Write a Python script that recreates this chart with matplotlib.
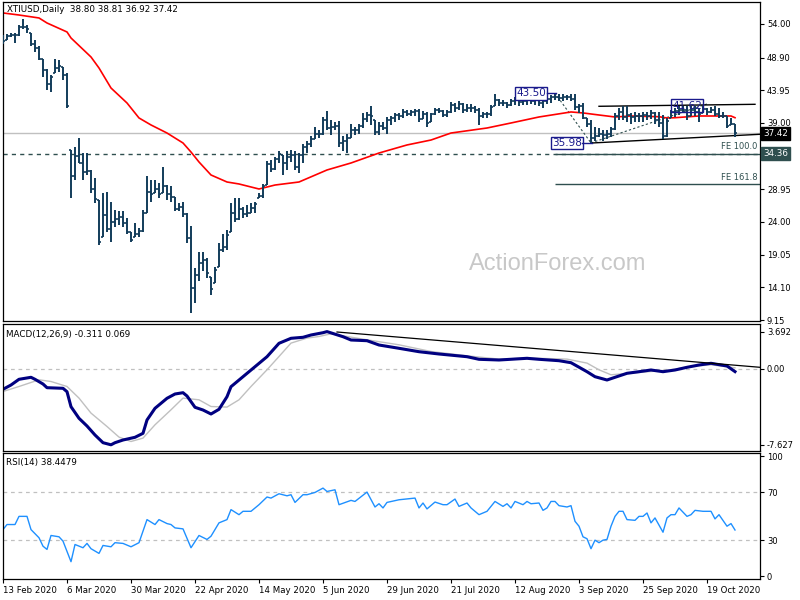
import numpy as np
import matplotlib.pyplot as plt

plt.rcParams['font.family'] = 'DejaVu Sans'

# x axis: one slot per daily bar
date_pos = [0, 16, 32, 48, 64, 80, 96, 112, 128, 144, 160, 176]
date_lbl = ['13 Feb 2020', '6 Mar 2020', '30 Mar 2020', '22 Apr 2020', '14 May 2020', '5 Jun 2020',
            '29 Jun 2020', '21 Jul 2020', '12 Aug 2020', '3 Sep 2020', '25 Sep 2020', '19 Oct 2020']

highs = [52.3, 52.5, 52.7, 52.6, 53.85, 54.7, 53.8, 52.7, 51.6, 50.6,
         48.7, 47.2, 46.3, 48.7, 48.5, 47.5, 46.6, 34.9, 35.4, 36.8,
         34.4, 34.4, 31.9, 30.7, 27.3, 28.4, 28.6, 27.1, 25.8, 25.6,
         25.6, 24.6, 22.5, 23.8, 23.1, 25.8, 30.9, 30.4, 30.4, 29.9,
         32.3, 29.6, 29.4, 27.8, 26.9, 27.1, 25.4, 23.4, 17.0, 19.4,
         19.5, 18.5, 15.7, 17.2, 20.8, 22.2, 22.8, 26.9, 27.6, 27.6,
         26.3, 26.6, 26.9, 27.1, 28.4, 29.8, 33.3, 33.4, 33.9, 34.8,
         34.2, 34.7, 34.9, 34.7, 34.5, 35.8, 36.2, 37.0, 38.4, 37.9,
         39.9, 40.8, 39.5, 39.2, 39.3, 37.0, 37.4, 38.9, 38.4, 38.9,
         40.5, 40.6, 41.6, 39.5, 39.1, 39.2, 39.9, 40.0, 40.5, 40.5,
         41.1, 41.0, 41.0, 41.1, 41.1, 40.8, 40.7, 40.5, 41.3, 41.2,
         41.0, 41.0, 42.2, 42.0, 42.4, 42.0, 41.9, 41.9, 41.6, 41.2,
         40.7, 40.7, 41.7, 43.4, 42.7, 42.5, 42.2, 42.7, 43.0, 43.0,
         42.7, 42.9, 42.7, 43.0, 42.9, 42.7, 43.0, 43.2, 43.5, 43.4,
         43.4, 43.2, 43.4, 43.4, 41.9, 42.0, 39.7, 39.5, 38.4, 38.2,
         37.9, 37.9, 38.4, 40.5, 41.2, 41.6, 41.5, 40.5, 40.6, 40.5,
         40.7, 40.7, 40.9, 40.7, 40.6, 40.2, 39.7, 41.0, 41.2, 41.62,
         41.6, 41.5, 41.5, 41.5, 41.2, 41.6, 41.2, 41.4, 41.5, 41.2,
         40.7, 40.0, 39.7, 38.81]
lows = [51.0, 51.6, 52.0, 51.1, 52.2, 53.3, 52.6, 50.6, 49.8, 48.5,
        46.0, 44.0, 43.7, 46.6, 46.8, 45.5, 41.3, 27.6, 30.4, 32.9,
        30.4, 31.1, 28.4, 26.9, 20.5, 21.8, 22.5, 21.0, 23.3, 23.5,
        23.3, 22.2, 21.0, 21.8, 21.8, 22.5, 25.4, 27.1, 28.4, 27.6,
        28.4, 27.3, 27.1, 25.6, 25.6, 24.8, 20.8, 10.16, 11.7, 15.0,
        16.5, 15.5, 12.9, 14.8, 17.2, 19.5, 19.8, 22.5, 24.0, 24.3,
        24.6, 24.8, 25.3, 25.3, 27.6, 27.6, 29.6, 31.6, 31.9, 32.9,
        31.1, 31.9, 33.1, 31.9, 31.4, 33.0, 34.4, 35.4, 36.5, 36.8,
        37.2, 37.9, 37.2, 37.9, 35.4, 34.7, 34.5, 36.7, 37.2, 37.4,
        38.2, 39.2, 38.7, 37.2, 37.2, 37.9, 37.4, 38.7, 39.2, 39.5,
        39.7, 40.1, 40.0, 40.1, 39.2, 39.6, 38.4, 39.2, 40.2, 40.5,
        39.9, 39.9, 40.5, 40.7, 41.0, 40.5, 40.7, 40.7, 40.5, 38.7,
        39.7, 39.7, 40.0, 41.5, 41.5, 41.5, 41.2, 41.5, 41.7, 41.5,
        41.7, 41.7, 41.9, 41.7, 41.6, 41.2, 41.9, 42.1, 42.5, 42.4,
        42.4, 42.5, 42.4, 41.0, 40.5, 39.6, 38.4, 35.98, 36.2, 36.9,
        36.2, 36.5, 36.9, 37.9, 39.5, 39.5, 39.2, 38.9, 39.2, 39.2,
        39.2, 39.5, 39.6, 38.9, 38.4, 36.6, 36.9, 39.7, 39.9, 40.2,
        40.5, 39.5, 40.0, 40.1, 39.2, 40.5, 40.2, 40.5, 40.0, 39.7,
        39.7, 38.2, 38.7, 36.92]
closes = [51.4, 52.2, 52.4, 52.3, 53.6, 53.5, 53.2, 50.9, 50.3, 48.7,
          47.0, 44.9, 45.9, 47.3, 47.6, 46.2, 41.5, 31.0, 34.0, 33.0,
          31.5, 31.8, 29.0, 27.5, 20.9, 25.1, 23.0, 24.0, 24.5, 24.8,
          23.9, 22.5, 21.3, 22.2, 22.6, 25.4, 28.5, 28.2, 29.0, 28.3,
          29.5, 28.2, 27.8, 26.0, 26.3, 25.2, 21.5, 14.0, 15.9, 17.8,
          18.2, 16.2, 13.9, 16.7, 19.8, 20.2, 22.0, 25.3, 24.4, 26.0,
          25.2, 25.4, 26.1, 26.8, 28.0, 29.5, 32.8, 32.0, 33.5, 34.3,
          33.0, 33.8, 34.1, 32.3, 34.2, 35.3, 35.8, 36.6, 37.3, 37.4,
          39.5, 38.3, 38.4, 38.6, 36.0, 36.3, 36.7, 38.0, 38.0, 38.5,
          39.6, 40.2, 40.0, 37.6, 38.5, 38.3, 39.5, 39.7, 40.2, 40.0,
          40.6, 40.4, 40.7, 40.8, 39.6, 40.3, 39.0, 40.3, 41.0, 40.8,
          40.2, 40.6, 41.8, 41.2, 41.9, 41.0, 41.3, 41.2, 41.0, 40.0,
          40.3, 40.4, 41.4, 42.5, 42.0, 42.1, 41.7, 42.4, 42.6, 42.2,
          42.3, 42.5, 42.4, 42.6, 42.1, 42.4, 42.7, 43.0, 42.9, 42.8,
          43.0, 42.9, 42.6, 41.4, 41.5, 39.8, 38.8, 36.8, 37.0, 37.3,
          37.2, 37.4, 38.1, 40.0, 40.6, 39.9, 40.2, 39.9, 40.0, 40.1,
          40.2, 40.0, 40.5, 39.4, 39.0, 37.0, 39.3, 40.6, 40.8, 40.9,
          41.0, 40.1, 40.9, 40.7, 40.4, 41.1, 40.6, 41.0, 40.4, 40.0,
          40.1, 38.6, 38.8, 37.42]
first_open = 51.8

# moving average (red), read at selected bars
ma_idx = [0, 4, 9, 11, 16, 17, 22, 24, 27, 31, 34, 37, 41, 45, 47, 49, 52, 56, 59, 64, 68, 74, 81,
          87, 94, 101, 107, 112, 121, 127, 134, 142, 145, 149, 153, 157, 164, 166, 168, 174, 182, 183]
ma_val = [55.67, 55.36, 54.91, 54.15, 52.79, 51.88, 49.0, 47.33, 44.3, 42.03, 39.76, 38.7, 37.48,
          35.97, 34.6, 33.09, 31.12, 30.06, 29.76, 29.0, 29.6, 30.06, 31.88, 32.94, 34.45, 35.67,
          36.42, 37.48, 38.24, 39.0, 39.91, 40.67, 40.52, 40.21, 39.91, 40.06, 39.95, 39.76, 39.8,
          40.06, 40.06, 39.8]

macd_idx = [0, 2, 4, 7, 8, 10, 11, 15, 16, 17, 19, 21, 23, 25, 27, 28, 30, 33, 35, 36, 38, 41, 43,
            45, 46, 48, 50, 52, 54, 56, 57, 60, 63, 66, 69, 72, 75, 77, 80, 81, 85, 87, 91, 94, 99,
            104, 109, 116, 119, 124, 131, 134, 139, 142, 146, 148, 151, 153, 156, 159, 162, 165,
            168, 171, 174, 177, 181, 183]
macd_val = [-2.08, -1.65, -1.08, -0.88, -1.08, -1.55, -1.92, -1.98, -2.32, -3.82, -4.98, -5.75,
            -6.65, -7.42, -7.63, -7.42, -7.15, -6.88, -6.48, -5.15, -3.98, -2.98, -2.55, -2.42,
            -2.75, -3.88, -4.15, -4.55, -4.08, -2.82, -1.82, -0.82, 0.18, 1.18, 2.52, 3.02, 3.12,
            3.35, 3.58, 3.69, 3.18, 2.85, 2.78, 2.35, 2.02, 1.68, 1.45, 1.18, 0.92, 0.85, 1.02,
            0.92, 0.78, 0.58, -0.32, -0.82, -1.15, -0.88, -0.48, -0.32, -0.15, -0.32, -0.15, 0.12,
            0.35, 0.52, 0.25, -0.311]
sig_idx = [0, 4, 9, 12, 16, 19, 22, 26, 29, 32, 35, 38, 42, 45, 49, 52, 56, 59, 62, 66, 69, 72, 76,
           79, 82, 86, 91, 99, 107, 116, 124, 132, 141, 146, 149, 152, 157, 162, 167, 172, 177, 183]
sig_val = [-2.3, -1.8, -1.13, -1.3, -1.8, -2.96, -4.46, -5.8, -6.86, -7.3, -6.96, -5.63, -4.13,
           -2.96, -3.13, -3.8, -3.86, -3.13, -1.8, -0.13, 1.2, 2.54, 3.04, 3.2, 3.47, 3.2, 2.87,
           2.37, 1.7, 1.27, 0.94, 1.04, 0.94, 0.54, -0.13, -0.63, -0.46, -0.3, -0.13, 0.2, 0.37,
           0.069]

rsi_idx = [0, 1, 3, 4, 6, 7, 9, 10, 11, 12, 14, 15, 17, 18, 20, 21, 22, 24, 25, 27,
           28, 30, 32, 34, 35, 36, 38, 39, 41, 42, 43, 45, 47, 49, 51, 52, 54, 56, 57, 59,
           60, 62, 64, 66, 67, 69, 71, 72, 73, 75, 76, 78, 80, 81, 83, 84, 87, 88, 91, 93,
           94, 95, 96, 99, 103, 104, 105, 106, 108, 110, 111, 113, 114, 116, 117, 119, 121, 123, 125, 126,
           127, 128, 130, 131, 132, 134, 135, 136, 137, 138, 139, 141, 142, 143, 144, 145, 146, 147, 148, 149,
           150, 151, 152, 153, 154, 155, 156, 158, 159, 160, 161, 162, 163, 165, 166, 167, 168, 169, 171, 172,
           173, 175, 177, 178, 179, 181, 182, 183]
rsi_val = [38.8, 43, 43, 49.8, 49.8, 38.8, 32, 25, 22.3, 33.9,
           32.8, 29.2, 12.1, 26.4, 23.7, 27.3, 22.9, 19, 25.6, 24.5,
           27.9, 27.3, 24.5, 27.9, 37.4, 47.1, 43, 47.1, 43.8, 43,
           40.2, 39.4, 23.7, 33.9, 30.6, 33.3, 44.4, 47.1, 55.4, 51.2,
           54, 54, 59.5, 65.9, 65, 68.6, 66.9, 67.8, 61.4, 67.8,
           67.8, 69.7, 73.3, 70.5, 71.9, 59.5, 63.1, 62.2, 70, 57.6,
           60.3, 56.8, 61.4, 63.6, 65, 56.8, 60.9, 56, 61.7, 59.5,
           59.5, 64.2, 58.1, 60.9, 56.8, 51.2, 54, 62.2, 58.1, 60.3,
           56.8, 62.2, 59.5, 62.2, 60.3, 60.9, 54.8, 56.8, 62.2, 62.2,
           58.7, 57.6, 58.7, 45.7, 41.6, 32.8, 31.2, 22.9, 30, 27.9,
           30, 30.6, 41.6, 49.8, 54, 54, 47.1, 46.5, 49.8, 49.8,
           52.6, 44.4, 48.5, 36.6, 48.5, 51.2, 51.2, 56.8, 49.8, 51.2,
           54.8, 54, 54, 47.7, 51.2, 41.6, 43.8, 38.4479]

price_ticks = [54.00, 48.90, 43.95, 39.00, 34.05, 28.95, 24.00, 19.05, 14.10, 9.15]
last_price = 37.42
fe100 = 34.36
fe161 = 29.71
fe_a = (138, 43.50)
fe_b = (147, 35.98)
fe_c = (176, 41.88)
high_1 = 41.62

bar_c = '#123c5a'
slate = '#2f4f4f'

highs = np.array(highs)
lows = np.array(lows)
closes = np.array(closes)
opens = np.clip(np.r_[first_open, closes[:-1]], lows, highs)
idx = np.arange(len(closes))

fig = plt.figure(figsize=(8, 6), dpi=100)


def rect(l, t, r, b):
    return [l / 800, 1 - b / 600, (r - l) / 800, (b - t) / 600]


ax1 = fig.add_axes(rect(2.5, 2, 760, 321))
ax2 = fig.add_axes(rect(2.5, 324, 760, 450.5))
ax3 = fig.add_axes(rect(2.5, 453, 760, 579))

for ax in (ax1, ax2, ax3):
    ax.set_xlim(-0.125, 189.25)
    ax.yaxis.tick_right()
    ax.tick_params(axis='y', direction='out', length=3, width=0.8, labelsize=6, pad=2)
    for sp in ax.spines.values():
        sp.set_linewidth(0.9)
ax1.set_xticks([])
ax2.set_xticks([])

# ---- price panel
ax1.set_ylim(9.0, 57.33)
ax1.set_yticks(price_ticks)
# 34.05 sits under the 34.36 marker box, as in the terminal
ax1.set_yticklabels(['' if p == 34.05 else '%.2f' % p for p in price_ticks])
ax1.text(558 / 800, 1 - 264 / 600, 'ActionForex.com', transform=fig.transFigure, ha='center',
         va='center', fontsize=17, color='#c8c8c8', family='Liberation Sans', zorder=0)

ax1.axhline(last_price, color='#c0c0c0', lw=1, zorder=1)
ax1.axhline(fe100, color=slate, lw=1, ls=(0, (3, 3)), zorder=1)
ax1.hlines([fe100, fe161], fe_a[0], 189.25, color=slate, lw=1, zorder=1)
ax1.text(188.6, fe100 + 0.35, 'FE 100.0', ha='right', va='bottom', fontsize=6, color=slate)
ax1.text(188.6, fe161 + 0.35, 'FE 161.8', ha='right', va='bottom', fontsize=6, color=slate)

ax1.plot([fe_a[0], fe_b[0]], [fe_a[1], fe_b[1]], color=slate, lw=0.8, ls=(0, (2, 2)), zorder=1)
ax1.plot([fe_b[0], fe_c[0]], [fe_b[1], fe_c[1]], color=slate, lw=0.8, ls=(0, (2, 2)), zorder=1)

ax1.plot([149, 188], [41.53, 41.83], color='black', lw=1, zorder=2)
ax1.plot([147.25, 189.25], [35.97, 37.29], color='black', lw=1, zorder=2)

ax1.plot(ma_idx, ma_val, color='red', lw=1.2, zorder=2)

ax1.vlines(idx, lows, highs, color=bar_c, lw=1.4, zorder=3)
ax1.hlines(opens, idx - 0.45, idx, color=bar_c, lw=1.2, zorder=3)
ax1.hlines(closes, idx, idx + 0.45, color=bar_c, lw=1.2, zorder=3)

lab_c = '#1a1a8c'
ax1.text(132, 43.50, '43.50', ha='center', va='center', fontsize=7.5, color=lab_c, zorder=4,
         bbox=dict(boxstyle='square,pad=0.12', fc='white', ec=lab_c, lw=1))
ax1.plot([136, 138.3], [43.5, 43.5], color=lab_c, lw=1, zorder=4)
ax1.text(141, 35.98, '35.98', ha='center', va='center', fontsize=7.5, color=lab_c, zorder=4,
         bbox=dict(boxstyle='square,pad=0.12', fc='white', ec=lab_c, lw=1))
ax1.plot([144.8, 147.3], [35.98, 35.98], color=lab_c, lw=1, zorder=4)
ax1.text(171, high_1, '41.62', ha='center', va='center', fontsize=7.5, color=lab_c, zorder=4,
         bbox=dict(boxstyle='square,pad=0.12', fc='none', ec=lab_c, lw=1))

ytr = ax1.get_yaxis_transform()
ax1.text(1.004, last_price, '%.2f' % last_price, transform=ytr, ha='left', va='center', fontsize=6.3,
         color='white', clip_on=False, zorder=5,
         bbox=dict(boxstyle='square,pad=0.25', fc='black', ec='black'))
ax1.text(1.004, fe100, '%.2f' % fe100, transform=ytr, ha='left', va='center', fontsize=6.3,
         color='white', clip_on=False, zorder=5,
         bbox=dict(boxstyle='square,pad=0.25', fc=slate, ec=slate))

ax1.text(0.006, 1 - 8 / 319, 'XTIUSD,Daily  %.2f %.2f %.2f %.2f' % (opens[-1], highs[-1], lows[-1], closes[-1]),
         transform=ax1.transAxes, ha='left', va='center', fontsize=6.3, color='black', zorder=6)

# ---- MACD panel
ax2.set_ylim(-8.2, 4.45)
ax2.set_yticks([3.692, 0.0, -7.627])
ax2.set_yticklabels(['3.692', '0.00', '-7.627'])
ax2.axhline(0, color='#c0c0c0', lw=0.9, ls=(0, (3, 3)))
ax2.plot(sig_idx, sig_val, color='#c0c0c0', lw=1)
ax2.plot(macd_idx, macd_val, color='#000080', lw=2.2)
ax2.plot([83.5, 189.25], [3.65, 0.12], color='black', lw=0.9)
ax2.text(0.005, 1 - 10 / 126.5, 'MACD(12,26,9) %.3f %.3f' % (macd_val[-1], sig_val[-1]),
         transform=ax2.transAxes, ha='left', va='center', fontsize=6.3)

# ---- RSI panel
ax3.set_ylim(-2.3, 102.5)
ax3.set_yticks([100, 70, 30, 0])
ax3.set_yticklabels(['100', '70', '30', '0'])
ax3.axhline(70, color='#c0c0c0', lw=0.9, ls=(0, (3, 3)))
ax3.axhline(30, color='#c0c0c0', lw=0.9, ls=(0, (3, 3)))
ax3.plot(rsi_idx, rsi_val, color='#1e90ff', lw=1)
ax3.text(0.005, 1 - 10 / 126, 'RSI(14) %.4f' % rsi_val[-1], transform=ax3.transAxes,
         ha='left', va='center', fontsize=6.3)

ax3.set_xticks(date_pos)
ax3.set_xticklabels(date_lbl, fontsize=6.2, ha='left')
ax3.tick_params(axis='x', direction='out', length=3, width=0.8, pad=2)

fig.savefig('out.png', dpi=100)
